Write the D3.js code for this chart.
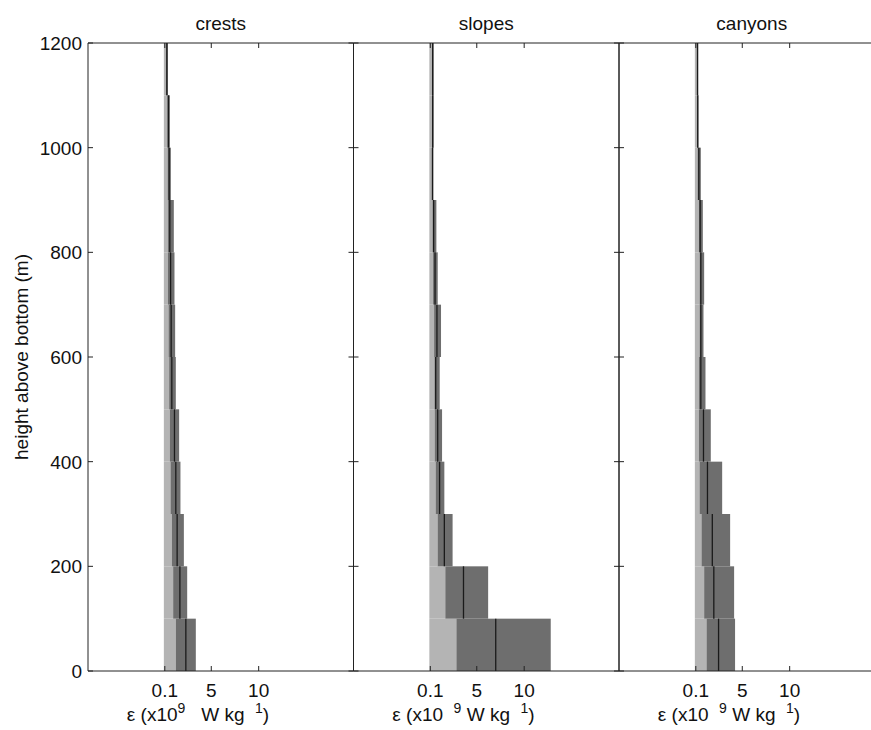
<!DOCTYPE html>
<meta charset="utf-8">
<style>
    body { margin: 0; background: #fff; }
    svg { font-family: "Liberation Sans", Arial, Helvetica, sans-serif; }
    .frame line { stroke: #222; stroke-width: 1px; }
</style>
<svg width="871" height="730"></svg>
<script src="https://cdn.jsdelivr.net/npm/d3@7"></script>
<script>
    // bins of 100 m, listed from the bottom up
    var binBottoms = [0, 100, 200, 300, 400, 500, 600, 700, 800, 900, 1000, 1100];
    var binSize = 100;
    var panelNames = ['crests', 'slopes', 'canyons'];
    var xTicks = [0.1, 5, 10];
    var yTicks = [0, 200, 400, 600, 800, 1000, 1200];

    var crestsLo   = [1.26, 0.98, 0.84, 0.70, 0.63, 0.56, 0.49, 0.42, 0.42, 0.39, 0.35, 0.21];
    var crestsMean = [2.32, 1.69, 1.40, 1.26, 1.12, 0.84, 0.77, 0.71, 0.63, 0.56, 0.49, 0.32];
    var crestsHi   = [3.37, 2.46, 2.11, 1.75, 1.61, 1.26, 1.19, 1.12, 1.05, 0.74, 0.63, 0.42];

    var slopesLo   = [2.85, 1.68, 0.87, 0.66, 0.56, 0.53, 0.50, 0.39, 0.32, 0.30, 0.30, 0.30];
    var slopesMean = [7.00, 3.60, 1.58, 1.08, 0.88, 0.67, 0.80, 0.60, 0.45, 0.33, 0.35, 0.35];
    var slopesHi   = [12.8, 6.20, 2.45, 1.58, 1.34, 1.09, 1.23, 0.88, 0.74, 0.42, 0.45, 0.45];

    var canyonsLo   = [1.23, 0.98, 0.70, 0.49, 0.42, 0.42, 0.49, 0.49, 0.42, 0.28, 0.28, 0.25];
    var canyonsMean = [2.50, 2.00, 1.84, 1.33, 0.91, 0.63, 0.63, 0.63, 0.56, 0.42, 0.30, 0.28];
    var canyonsHi   = [4.24, 4.14, 3.72, 2.88, 1.68, 1.12, 0.91, 0.98, 0.84, 0.63, 0.38, 0.35];

    var series = {
        crests: { lo: crestsLo, mean: crestsMean, hi: crestsHi },
        slopes: { lo: slopesLo, mean: slopesMean, hi: slopesHi },
        canyons: { lo: canyonsLo, mean: canyonsMean, hi: canyonsHi }
    };

    var svg = d3.select('svg');
    var marginLeft = 88, marginTop = 43, panelW = 265.5, panelH = 628;
    var tickLen = 5;

    var x = d3.scaleLinear().domain([-8, 20]).range([0, panelW]);
    var y = d3.scaleLinear().domain([0, 1200]).range([panelH, 0]);

    panelNames.forEach(function (name, i) {
        var s = series[name];
        var g = svg.append('g')
            .attr('transform', 'translate(' + (marginLeft + i * panelW) + ',' + marginTop + ')');
        var rows = binBottoms.map(function (b, j) {
            return { b: b, lo: s.lo[j], mean: s.mean[j], hi: s.hi[j] };
        });

        // light bar from zero to lower bound
        g.selectAll('.light').data(rows).enter().append('rect')
            .attr('x', x(0))
            .attr('y', function (d) { return y(d.b + binSize); })
            .attr('width', function (d) { return x(d.lo) - x(0); })
            .attr('height', function (d) { return y(d.b) - y(d.b + binSize); })
            .attr('fill', '#b4b4b4');

        // dark bar between bounds
        g.selectAll('.dark').data(rows).enter().append('rect')
            .attr('x', function (d) { return x(d.lo); })
            .attr('y', function (d) { return y(d.b + binSize); })
            .attr('width', function (d) { return x(d.hi) - x(d.lo); })
            .attr('height', function (d) { return y(d.b) - y(d.b + binSize); })
            .attr('fill', '#6e6e6e');

        // mean
        g.selectAll('.mean').data(rows).enter().append('line')
            .attr('x1', function (d) { return x(d.mean); })
            .attr('x2', function (d) { return x(d.mean); })
            .attr('y1', function (d) { return y(d.b + binSize); })
            .attr('y2', function (d) { return y(d.b); })
            .attr('stroke', '#1a1a1a')
            .attr('stroke-width', 1.3);

        // box and inward ticks
        var frame = g.append('g').attr('class', 'frame');
        frame.append('line').attr('x1', 0).attr('x2', panelW).attr('y1', 0).attr('y2', 0);
        frame.append('line').attr('x1', 0).attr('x2', panelW).attr('y1', panelH).attr('y2', panelH);
        frame.append('line').attr('x1', 0).attr('x2', 0).attr('y1', 0).attr('y2', panelH);
        frame.append('line').attr('x1', panelW).attr('x2', panelW).attr('y1', 0).attr('y2', panelH);
        xTicks.forEach(function (t) {
            frame.append('line').attr('x1', x(t)).attr('x2', x(t)).attr('y1', panelH).attr('y2', panelH - tickLen);
            frame.append('line').attr('x1', x(t)).attr('x2', x(t)).attr('y1', 0).attr('y2', tickLen);
        });
        yTicks.forEach(function (t) {
            frame.append('line').attr('x1', 0).attr('x2', tickLen).attr('y1', y(t)).attr('y2', y(t));
            frame.append('line').attr('x1', panelW).attr('x2', panelW - tickLen).attr('y1', y(t)).attr('y2', y(t));
        });

        // x tick labels
        g.selectAll('.xl').data(xTicks).enter().append('text')
            .attr('x', function (d) { return x(d); })
            .attr('y', panelH + 26)
            .attr('text-anchor', 'middle')
            .attr('font-size', 19)
            .attr('fill', '#111')
            .text(function (d) { return d; });

        // x label
        var xl = g.append('text')
            .attr('x', x(3.6))
            .attr('y', panelH + 50)
            .attr('text-anchor', 'middle')
            .attr('font-size', 19)
            .attr('fill', '#111');
        if (i === 0) {
            xl.append('tspan').text('ε (x10');
            xl.append('tspan').attr('dy', -8).attr('font-size', 14).text('9');
            xl.append('tspan').attr('dy', 8).text('\u00a0\u00a0 W kg \u00a0');
        } else {
            xl.append('tspan').text('ε (x10 \u00a0');
            xl.append('tspan').attr('dy', -8).attr('font-size', 14).text('9');
            xl.append('tspan').attr('dy', 8).text(' W kg \u00a0');
        }
        xl.append('tspan').attr('dy', -8).attr('font-size', 14).text('1');
        xl.append('tspan').attr('dy', 8).text(')');

        // title
        g.append('text')
            .attr('x', panelW / 2)
            .attr('y', -13)
            .attr('text-anchor', 'middle')
            .attr('font-size', 19)
            .attr('fill', '#111')
            .text(name);

        if (i === 0) {
            g.selectAll('.yl').data(yTicks).enter().append('text')
                .attr('x', -6)
                .attr('y', function (d) { return y(d) + 7; })
                .attr('text-anchor', 'end')
                .attr('font-size', 19)
                .attr('fill', '#111')
                .text(function (d) { return d; });
            g.append('text')
                .attr('transform', 'translate(-60,' + (panelH / 2) + ') rotate(-90)')
                .attr('text-anchor', 'middle')
                .attr('font-size', 19)
                .attr('fill', '#111')
                .text('height above bottom (m)');
        }
    });
</script>
